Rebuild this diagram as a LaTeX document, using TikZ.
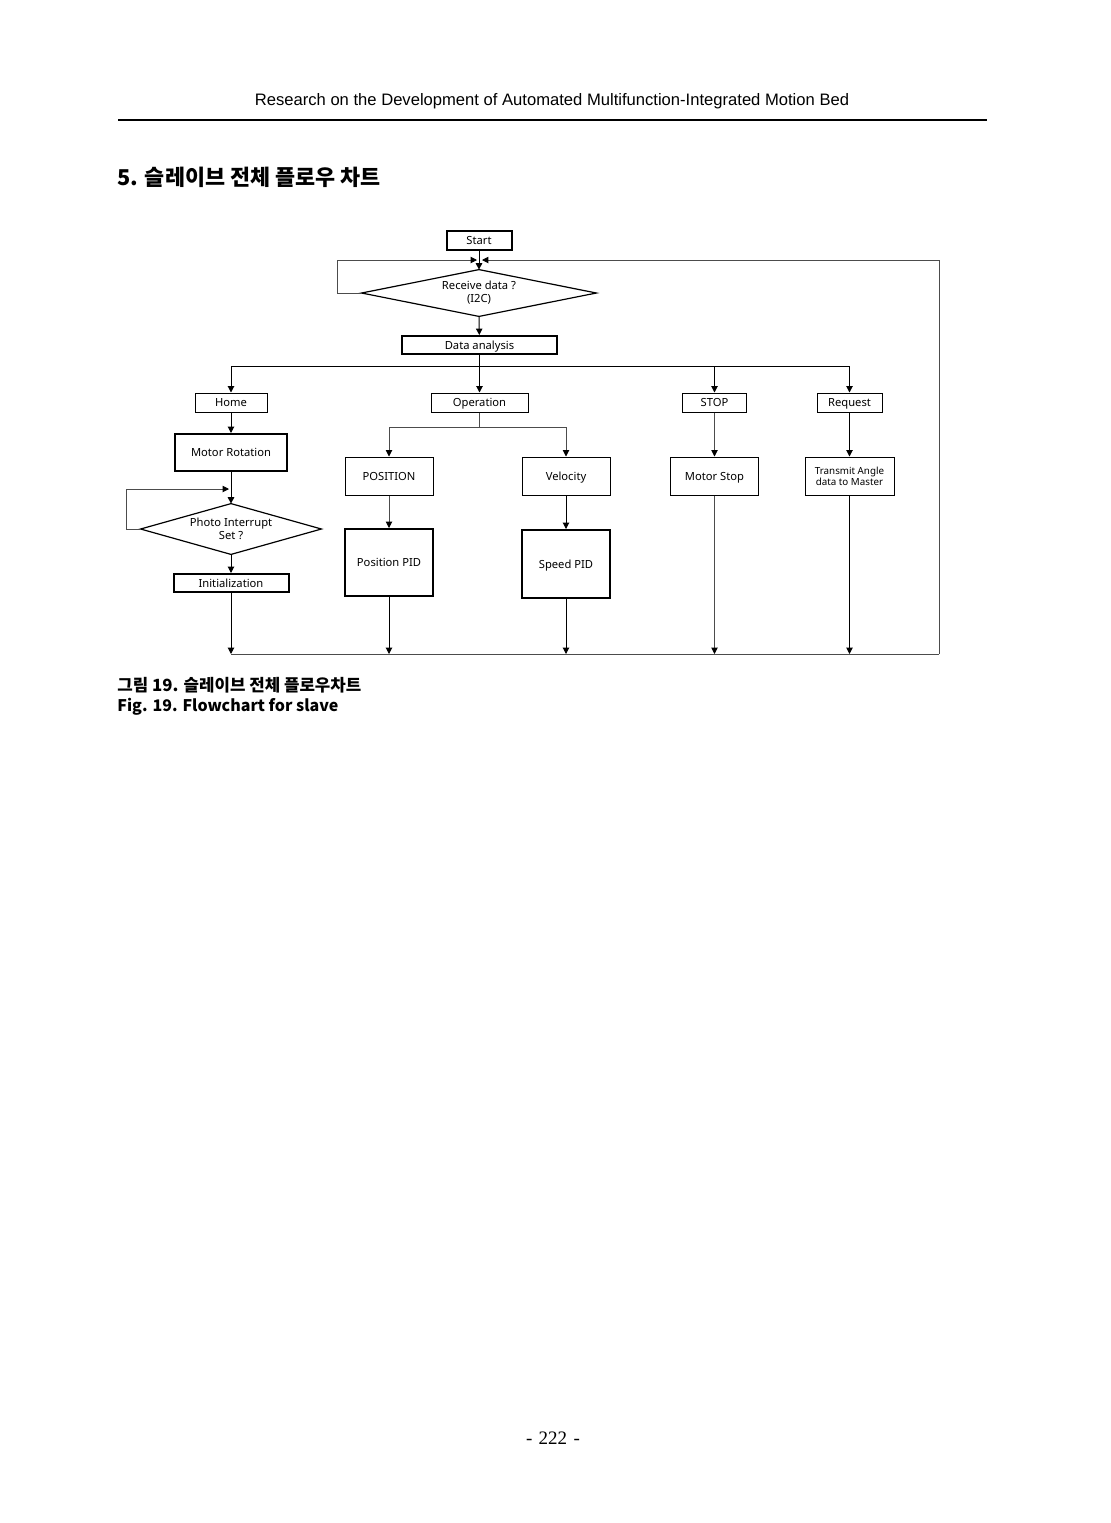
\documentclass[tikz,border=0pt]{standalone}
\usepackage{fontspec}
\setmainfont{Noto Sans}
\newfontfamily\krfont{Noto Sans CJK KR}
\newfontfamily\hdfont{Liberation Sans}
\newfontfamily\pgfont{Liberation Serif}
\usetikzlibrary{shapes.geometric,arrows.meta}
\newcommand\lblfont{\fontsize{5.6}{6.6}\selectfont}
\newcommand\smlfont{\fontsize{4.9}{5.6}\selectfont}
\begin{document}
\begin{tikzpicture}[x=0.5pt,y=-0.5pt,
  box/.style={draw, line width=0.5pt, inner sep=0pt, font=\lblfont, align=center},
  one/.style={text height=5.4pt, text depth=1pt},
  tbox/.style={box, line width=1pt},
  dtext/.style={inner sep=0pt, font=\lblfont, align=center},
  dline/.style={line width=0.6pt},
  arr/.style={line width=0.5pt, -{Triangle[length=3.2pt,width=3.2pt]}},
  karr/.style={line width=0.45pt, draw=black!70, -{Triangle[length=3.2pt,width=3.2pt,fill=black,color=black]}},
  ln/.style={line width=0.5pt},
  gln/.style={line width=0.45pt, draw=black!70}]
\useasboundingbox (0,0) rectangle (1111,1523);

% header
\node[font=\hdfont\fontsize{8.3}{10}\selectfont, inner sep=0pt] (hdr) at (552,101) {Research on the Development of Automated Multifunction-Integrated Motion Bed};
\coordinate (hl) at (118,120);
\coordinate (hr) at (987,120);
\draw[line width=0.7pt] (hl) -- (hr);
\node[anchor=west, font=\krfont\bfseries\fontsize{10.9}{13}\selectfont, inner sep=0pt] (ttl) at (117,177) {5. 슬레이브 전체 플로우 차트};

% flowchart nodes
\node[tbox, one, minimum width=32.5pt, minimum height=9.5pt] (start) at (479,240.5) {Start};
\node[dtext, minimum width=117pt, minimum height=23pt] (recv) at (479,293) {Receive data ?\\(I2C)};
\draw[dline] (recv.west) -- (recv.north) -- (recv.east) -- (recv.south) -- cycle;
\node[tbox, one, minimum width=77.5pt, minimum height=9pt] (da) at (479.5,345) {Data analysis};

\node[box, one, minimum width=36pt, minimum height=9.5pt] (home) at (231,402.5) {Home};
\node[box, one, minimum width=48.5pt, minimum height=9.5pt] (oper) at (479.5,402.5) {Operation};
\node[box, one, minimum width=32pt, minimum height=9.5pt] (stop) at (714.5,402.5) {STOP};
\node[box, one, minimum width=32.5pt, minimum height=9.5pt] (req) at (849.5,402.5) {Request};

\node[tbox, one, minimum width=56pt, minimum height=18.5pt] (motrot) at (231,452.5) {Motor Rotation};
\node[dtext, minimum width=90pt, minimum height=25pt] (photo) at (231,529) {Photo Interrupt\\Set ?};
\draw[dline] (photo.west) -- (photo.north) -- (photo.east) -- (photo.south) -- cycle;
\node[tbox, one, minimum width=57.5pt, minimum height=9pt] (init) at (231,583) {Initialization};

\node[box, one, minimum width=44pt, minimum height=19pt] (pos) at (389,476) {POSITION};
\node[tbox, one, minimum width=44pt, minimum height=33.5pt] (ppid) at (389,562.5) {Position PID};
\node[box, one, minimum width=44pt, minimum height=19pt] (vel) at (566,476) {Velocity};
\node[tbox, one, minimum width=44pt, minimum height=34pt] (spid) at (566,564) {Speed PID};
\node[box, one, minimum width=44pt, minimum height=19pt] (mstop) at (714.5,476) {Motor Stop};
\node[box, minimum width=44.5pt, minimum height=19pt, font=\smlfont] (tx) at (849.5,476) {Transmit Angle\\data to Master};

% coordinates
\coordinate (mL) at (477,260);
\coordinate (mR) at (482,260);
\coordinate (lp) at (337,260);
\coordinate (br) at (479.5,366);
\coordinate (ob) at (479.5,427);
\coordinate (pl) at (126,489);
\coordinate (pa) at (229,489);
\coordinate (b1) at (231,654);
\coordinate (b2) at (389,654);
\coordinate (b3) at (566,654);
\coordinate (b4) at (714.5,654);
\coordinate (b5) at (849.5,654);
\coordinate (rc) at (939,654);

% connectors
\draw[arr] (start) -- (recv.north);
\draw[karr] (recv.west) -| (lp) -- (mL);
\draw[gln] (b1) -- (rc);
\draw[karr] (rc) |- (mR);
\draw[arr] (recv.south) -- (da);
\draw[ln] (da) -- (br);
\draw[arr] (br) -| (home.north);
\draw[arr] (br) -- (oper);
\draw[arr] (br) -| (stop.north);
\draw[arr] (br) -| (req.north);

\draw[arr] (home) -- (motrot);
\draw[arr] (motrot) -- (photo.north);
\draw[karr] (photo.west) -| (pl) -- (pa);
\draw[arr] (photo.south) -- (init);
\draw[arr] (init) -- (b1);

\draw[gln] (oper) -- (ob);
\draw[karr] (ob) -| (pos.north);
\draw[karr] (ob) -| (vel.north);
\draw[karr] (pos) -- (ppid);
\draw[arr] (vel) -- (spid);
\draw[arr] (ppid) -- (b2);
\draw[arr] (spid) -- (b3);

\draw[karr] (stop) -- (mstop);
\draw[karr] (mstop) -- (b4);
\draw[arr] (req) -- (tx);
\draw[arr] (tx) -- (b5);

% captions
\node[anchor=west, font=\krfont\bfseries\fontsize{8.4}{10}\selectfont, inner sep=0pt] (cap1) at (117,685) {그림 19. 슬레이브 전체 플로우차트};
\node[anchor=west, font=\krfont\bfseries\fontsize{8}{10}\selectfont, inner sep=0pt] (cap2) at (117,707) {Fig. 19. Flowchart for slave};

\node[font=\pgfont\fontsize{9.5}{11}\selectfont, inner sep=0pt] (pg) at (553,1438) {-\,\,222\,\,-};
\end{tikzpicture}
\end{document}
